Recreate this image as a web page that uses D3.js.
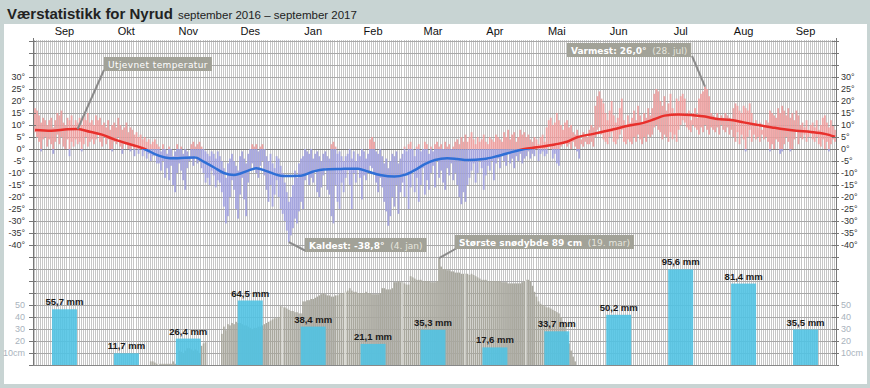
<!DOCTYPE html>
<html>
<head>
<meta charset="utf-8">
<script src="https://cdn.jsdelivr.net/npm/d3@7"></script>
<style>
body { margin: 0; background: #fff; }
svg { display: block; font-family: 'Liberation Sans', Arial, sans-serif; }
</style>
</head>
<body>
<script>
const monthNames = ['Sep','Okt','Nov','Des','Jan','Feb','Mar','Apr','Mai','Jun','Jul','Aug','Sep'];
const precip = [55.7, 11.7, 26.4, 64.5, 38.4, 21.1, 35.3, 17.6, 33.7, 50.2, 95.6, 81.4, 35.5];

const tempTicks = [30, 25, 20, 15, 10, 5, 0, -5, -10, -15, -20, -25, -30, -35, -40];
const snowTicks = [50, 40, 30, 20, 10];

// daily max / min, 1. sep 2016 - 30. sep 2017
const tmax = [
    17,16,14,11,13,12,10,12,13,9,12,15,14,16,11,10,13,12,14,10,12,11,13,10,14,12,15,11,12,10,
    14,12,13,10,11,9,12,8,10,11,9,13,10,8,9,11,7,9,8,6,7,5,6,4,5,3,4,2,3,4,2,
    1,-1,2,0,-2,1,0,-3,-1,2,0,1,-2,0,-1,-3,2,3,1,2,3,1,0,-1,-2,-3,-1,-2,-4,-1,
    -3,-5,-8,-12,-6,-4,-2,-5,-7,-9,-3,-1,-4,-6,-2,0,2,1,2,-1,1,2,0,-3,-5,-2,-6,-8,-3,-4,-7,
    -10,-14,-18,-22,-20,-15,-9,-12,-6,-4,-3,0,-1,-2,0,-4,-2,-1,-3,-5,-2,-1,-3,-4,2,3,1,-2,-1,-3,-5,
    -3,-2,0,-4,-1,-5,-2,-3,0,-1,-4,-2,4,5,3,-1,-2,0,-3,-6,-4,-8,-5,-2,-3,-1,-6,-4,
    -2,1,-1,2,3,0,-3,1,2,-1,0,3,2,-2,1,-1,2,3,1,2,0,3,1,2,0,1,3,4,2,5,3,
    6,3,5,7,4,2,5,3,4,6,3,2,5,4,3,6,5,4,3,7,5,8,4,6,7,3,5,8,6,7,
    5,6,4,3,5,4,2,5,6,3,9,12,13,10,11,15,12,10,8,11,12,9,10,7,6,8,5,4,7,6,5,
    8,10,9,18,22,24,21,19,15,12,16,20,14,11,13,17,21,12,10,14,11,13,16,12,18,14,11,15,13,17,
    14,17,23,25,24,20,18,22,16,19,23,17,15,21,20,22,23,21,14,16,12,15,17,13,21,23,24,26,25,22,15,
    14,13,15,12,14,13,15,14,13,12,17,19,18,16,15,18,17,16,19,15,10,12,9,11,8,10,12,11,16,15,14,
    13,17,15,18,16,14,17,13,15,12,16,14,10,11,9,12,8,10,11,9,12,8,10,13,14,11,9,12,10,8
];
const tmin = [
    7,5,3,-1,4,5,1,4,2,-2,3,6,2,5,1,0,4,-3,3,1,4,2,3,-1,2,5,1,3,4,2,
    4,6,3,1,5,2,4,0,-1,3,2,5,1,-2,3,2,0,-1,2,-3,0,-2,1,-3,-1,-4,-2,-5,-3,-2,-6,
    -6,-9,-5,-12,-8,-13,-7,-15,-18,-10,-6,-9,-13,-17,-8,-5,-4,-7,-3,-6,-5,-8,-10,-14,-12,-15,-9,-11,-16,-13,
    -14,-18,-24,-31,-28,-20,-13,-17,-25,-29,-19,-12,-21,-28,-14,-9,-6,-8,-10,-12,-7,-5,-11,-17,-22,-15,-24,-19,-13,-20,-25,
    -27,-30,-34,-38.8,-36,-33,-29,-31,-26,-22,-25,-13,-10,-15,-12,-14,-9,-18,-20,-16,-11,-8,-17,-19,-28,-31,-15,-22,-25,-14,-18,
    -12,-9,-15,-25,-10,-14,-8,-12,-21,-11,-13,-9,-7,-8,-10,-14,-18,-12,-16,-22,-26,-32,-28,-20,-24,-15,-27,-18,
    -14,-20,-11,-25,-16,-9,-18,-12,-22,-15,-8,-19,-13,-17,-10,-7,-16,-5,-12,-9,-14,-17,-8,-11,-6,-13,-10,-15,-20,-23,-18,
    -22,-15,-12,-9,-6,-14,-10,-5,-8,-17,-11,-7,-9,-5,-13,-6,-4,-8,-3,-5,-7,-2,-6,-4,-8,-3,-5,-2,-6,-4,
    -3,-1,-4,-2,-3,0,-5,-2,-1,-3,-2,1,0,-4,-2,-6,-7,1,2,3,1,2,0,3,1,-1,-4,2,1,3,2,
    2,3,1,5,8,9,6,4,3,2,5,7,3,2,4,6,8,3,2,4,3,2,5,3,6,4,2,5,3,6,
    5,6,9,10,8,7,4,6,5,3,7,4,6,3,8,10,12,11,9,8,7,10,9,8,6,9,7,10,8,6,9,
    8,7,9,6,10,8,7,9,6,8,5,3,7,2,6,4,-1,5,8,3,6,4,5,3,6,4,5,3,-1,2,0,
    4,3,-2,-1,2,5,3,-1,0,4,8,2,5,4,6,3,5,7,4,3,5,2,1,4,0,3,-1,2,4,3
];

// smoothed temperature (day number from 1. sep 2016)
const smoothDay = [0,8,16,21,27,33,39,45,50,54,59,64,69,74,79,83,88,93,98,105,109,114,122,131,137,142,151,159,164,170,
    177,182,187,192,197,203,208,213,221,228,234,241,247,256,262,267,275,285,292,300,305,310,317,323,330,336,343,349,356,363,
    369,375,382,389,394];
const smoothTemp = [7.9,7.6,8.2,8.3,7.2,6.0,4.0,2.4,1.2,0,-2.1,-3.5,-3.9,-3.6,-3.5,-5.3,-7.6,-10,-10.8,-9,-8,-9.2,-11.2,-11.1,-9.4,-8.5,-8.3,-8.2,-9.4,-10.8,
    -11.5,-10.8,-8.8,-6.3,-4.6,-3.9,-4.2,-4.6,-4.2,-2.9,-1.5,0,0.7,1.9,3,4.9,6.3,8.2,9.7,11,12.4,13.9,14.4,14.2,13.5,12.5,12.1,11.1,10,9,
    8.2,7.6,7.1,6.3,5.1];

// snow depth in cm from 28. okt 2016
const snow = [
    3,3,2,1,1,1,1,1,1,1,1,3,1,0,
    12,11,10,12,14,14,13,12,13,12,10,16,18,19,
    0,0,0,0,0,0,0,
    26,32,29,34,33,35,34,36,35,35,34,33,33,32,31,30,
    31,31,32,32,33,34,35,36,37,38,39,39,40,
    49,48,48,47,46,45,45,44,44,43,43,
    53,53,54,54,55,55,56,57,58,59,60,59,58,58,57,
    57,58,58,59,60,60,61,62,64,62,
    61,61,60,60,60,60,61,60,60,59,59,59,59,60,
    64,64,63,63,63,64,
    69,69,70,69,69,68,67,67,
    74,73,72,71,71,71,70,70,70,70,69,69,69,70,
    89,
    82,80,80,79,79,78,78,77,77,77,76,76,
    76,76,75,76,75,74,73,72,71,71,71,70,70,70,70,
    70,70,70,69,69,69,68,68,68,68,68,68,68,69,70,71,
    71,70,66,61,57,53,51,50,49,48,48,47,46,45,44,43,40,36,32,25,18,12,7,3
];

const width = 870, height = 388;
const start = new Date(Date.UTC(2016, 8, 1));
const end = new Date(Date.UTC(2017, 9, 1));
const snowStart = new Date(Date.UTC(2016, 9, 28));
const days = d3.utcDay.range(start, end);
const months = d3.utcMonth.range(start, end);

const x = d3.scaleUtc().domain([start, end]).range([34, 836]);
const yT = d3.scaleLinear().domain([0, 30]).range([149, 77]);
const yS = d3.scaleLinear().domain([0, 50]).range([365, 305]);
const yP = d3.scaleLinear().domain([0, 100]).range([365, 265]);
const dayW = x(days[1]) - x(days[0]);
const axLeft = 33, axRight = 836, plotTop = 40, plotBottom = 365;

const svg = d3.select('body')
.append('svg')
.attr('width', width)
.attr('height', height);

svg.append('rect')
.attr('width', width)
.attr('height', height)
.attr('fill', '#c8d4d3');

svg.append('rect')
.attr('x', 4)
.attr('y', 24)
.attr('width', 863)
.attr('height', 360)
.attr('fill', '#fff');

const title = svg.append('text')
.attr('x', 7)
.attr('y', 19)
.attr('fill', '#222');
title.append('tspan').attr('font-size', 15).attr('font-weight', 'bold').text('Værstatistikk for Nyrud');
title.append('tspan').attr('font-size', 11.5).attr('dx', 5).text('september 2016 – september 2017');

// grid
svg.append('g')
.selectAll('line')
.data(days)
.enter()
.append('line')
.attr('x1', d => Math.round(x(d)) + 0.5)
.attr('x2', d => Math.round(x(d)) + 0.5)
.attr('y1', plotTop)
.attr('y2', plotBottom)
.attr('stroke', '#c6c6c6')
.attr('stroke-width', 1);

const gridVals = d3.range(45, -91, -5);
svg.append('g')
.selectAll('line')
.data(gridVals)
.enter()
.append('line')
.attr('x1', axLeft)
.attr('x2', axRight)
.attr('y1', d => Math.round(yT(d)) + 0.5)
.attr('y2', d => Math.round(yT(d)) + 0.5)
.attr('stroke', d => d === 0 ? '#808080' : '#a8a8a8')
.attr('stroke-width', 1);

// temperature bars
const temps = days.map((d, i) => ({ date: d, max: tmax[i], min: tmin[i] }));
const barW = 1.8;

svg.append('g')
.selectAll('rect')
.data(temps.filter(d => d.max > 0))
.enter()
.append('rect')
.attr('x', d => x(d.date) + dayW / 2 - barW / 2)
.attr('width', barW)
.attr('y', d => yT(d.max))
.attr('height', d => yT(Math.max(d.min, 0)) - yT(d.max))
.attr('fill', '#ef9d9d')
.attr('opacity', 0.9);

svg.append('g')
.selectAll('rect')
.data(temps.filter(d => d.min < 0))
.enter()
.append('rect')
.attr('x', d => x(d.date) + dayW / 2 - barW / 2)
.attr('width', barW)
.attr('y', d => yT(Math.min(d.max, 0)))
.attr('height', d => yT(d.min) - yT(Math.min(d.max, 0)))
.attr('fill', '#a0a0df')
.attr('opacity', 0.9);

// smoothed line
const smooth = smoothDay.map((d, i) => ({ date: d3.utcDay.offset(start, d), t: smoothTemp[i] }));
const line = d3.line()
.x(d => x(d.date) + dayW / 2)
.y(d => yT(d.t))
.curve(d3.curveMonotoneX);

const defs = svg.append('defs');
defs.append('clipPath').attr('id', 'above')
.append('rect').attr('x', 0).attr('y', 0).attr('width', width).attr('height', yT(0));
defs.append('clipPath').attr('id', 'below')
.append('rect').attr('x', 0).attr('y', yT(0)).attr('width', width).attr('height', height);

svg.append('path')
.datum(smooth)
.attr('d', line)
.attr('fill', 'none')
.attr('stroke', '#e8302c')
.attr('stroke-width', 2.5)
.attr('clip-path', 'url(#above)');

svg.append('path')
.datum(smooth)
.attr('d', line)
.attr('fill', 'none')
.attr('stroke', '#2f6fd6')
.attr('stroke-width', 2.5)
.attr('clip-path', 'url(#below)');

// snow depth
const snowData = snow.map((v, i) => ({ date: d3.utcDay.offset(snowStart, i), v: v })).filter(d => d.v > 0);

svg.append('g')
.selectAll('rect')
.data(snowData)
.enter()
.append('rect')
.attr('x', d => x(d.date) + 0.2)
.attr('width', dayW - 0.4)
.attr('y', d => yS(d.v))
.attr('height', d => yS(0) - yS(d.v))
.attr('fill', '#a9a89e');

svg.append('g')
.selectAll('line')
.data(snowData.filter(d => d.date.getUTCDate() === 1))
.enter()
.append('line')
.attr('x1', d => x(d.date) + 0.5)
.attr('x2', d => x(d.date) + 0.5)
.attr('y1', d => yS(d.v))
.attr('y2', plotBottom)
.attr('stroke', '#e8e8e4')
.attr('stroke-width', 1.2);

// precipitation
const monthData = months.map((m, i) => {
    const next = d3.utcMonth.offset(m, 1);
    return { name: monthNames[i], mid: (x(m) + x(next)) / 2, p: precip[i] };
});

svg.append('g')
.selectAll('rect')
.data(monthData)
.enter()
.append('rect')
.attr('x', d => d.mid - 12.5)
.attr('width', 25)
.attr('y', d => yP(d.p))
.attr('height', d => yP(0) - yP(d.p))
.attr('fill', '#4ec3e4')
.attr('opacity', 0.88);

svg.append('g')
.selectAll('text')
.data(monthData)
.enter()
.append('text')
.attr('x', d => d.mid)
.attr('y', d => yP(d.p) - 4)
.attr('text-anchor', 'middle')
.attr('font-size', 9.5)
.attr('font-weight', 'bold')
.attr('fill', '#1a1a1a')
.text(d => d.p.toFixed(1).replace('.', ',') + ' mm');

// month labels
svg.append('g')
.selectAll('text')
.data(monthData)
.enter()
.append('text')
.attr('x', d => d.mid)
.attr('y', 35)
.attr('text-anchor', 'middle')
.attr('font-size', 11)
.attr('fill', '#111')
.text(d => d.name);

// axes
[axLeft, axRight].forEach((ax, k) => {
    svg.append('line')
    .attr('x1', ax + 0.5).attr('x2', ax + 0.5)
    .attr('y1', plotTop - 2).attr('y2', plotBottom)
    .attr('stroke', '#777');

    svg.append('g')
    .selectAll('line')
    .data(gridVals)
    .enter()
    .append('line')
    .attr('x1', ax - 4)
    .attr('x2', ax + 3)
    .attr('y1', d => Math.round(yT(d)) + 0.5)
    .attr('y2', d => Math.round(yT(d)) + 0.5)
    .attr('stroke', '#777');

    const tAxis = (k === 0 ? d3.axisLeft(yT) : d3.axisRight(yT))
    .tickValues(tempTicks)
    .tickSize(0)
    .tickPadding(k === 0 ? 8 : 5)
    .tickFormat(d => d + '°');

    const sAxis = (k === 0 ? d3.axisLeft(yS) : d3.axisRight(yS))
    .tickValues(snowTicks)
    .tickSize(0)
    .tickPadding(k === 0 ? 8 : 5)
    .tickFormat(d => d === 10 ? '10cm' : d);

    [[tAxis, '#333'], [sAxis, '#a9b3bd']].forEach(([a, c]) => {
        const g = svg.append('g')
        .attr('transform', `translate(${ax},0)`)
        .call(a);
        g.select('.domain').remove();
        g.selectAll('text')
        .attr('font-family', "'Liberation Sans', Arial, sans-serif")
        .attr('font-size', 9)
        .attr('fill', c);
    });
});

svg.append('line')
.attr('x1', axLeft).attr('x2', axRight + 1)
.attr('y1', plotBottom + 0.5).attr('y2', plotBottom + 0.5)
.attr('stroke', '#888');

// notes
function addNote(bx, by, parts, p1, p2, spacing) {
    svg.append('line')
    .attr('x1', p1[0]).attr('y1', p1[1])
    .attr('x2', p2[0]).attr('y2', p2[1])
    .attr('stroke', '#8a8a8a')
    .attr('stroke-width', 2);

    const box = svg.append('rect')
    .attr('x', bx)
    .attr('y', by)
    .attr('height', 14)
    .attr('fill', '#a2a298');

    const text = svg.append('text')
    .attr('x', bx + 4)
    .attr('y', by + 10.5)
    .attr('font-family', "'DejaVu Sans', Verdana, sans-serif")
    .attr('font-size', 9)
    .attr('letter-spacing', spacing || 0);

    parts.forEach(p => {
        text.append('tspan')
        .attr('font-weight', p.bold ? 'bold' : 'normal')
        .attr('fill', p.color || '#fff')
        .attr('xml:space', 'preserve')
        .text(p.text);
    });

    box.attr('width', text.node().getBBox().width + 8);
}

const fmt = v => v.toFixed(1).replace('.', ',');
const minT = d3.min(tmin), maxT = d3.max(tmax), maxS = d3.max(snow);
const minDay = days[tmin.indexOf(minT)], maxDay = days[tmax.indexOf(maxT)];
const snowDay = d3.utcDay.offset(snowStart, snow.indexOf(maxS));
const dayLabel = d => `(${d.getUTCDate()}. ${d3.utcFormat('%b')(d).toLowerCase()})`;

const sm = smooth[3];
addNote(104, 57, [{ text: 'Utjevnet temperatur' }],
    [104, 70], [x(sm.date) + dayW / 2, yT(sm.t)], 0.4);

addNote(567, 43, [{ text: 'Varmest: ' + fmt(maxT) + '°', bold: true }, { text: '  ' + dayLabel(maxDay), color: '#e6e6de' }],
    [692, 56], [x(maxDay) + dayW / 2, yT(maxT)]);

addNote(305, 238, [{ text: 'Kaldest: ' + fmt(minT) + '°', bold: true }, { text: '  ' + dayLabel(minDay), color: '#e6e6de' }],
    [306, 251], [x(minDay) + dayW / 2, yT(minT)]);

addNote(455, 235, [{ text: 'Største snødybde ' + maxS + ' cm', bold: true }, { text: '  ' + dayLabel(snowDay), color: '#e6e6de' }],
    [457, 248], [x(snowDay) + dayW / 2, yS(maxS)]);
</script>
</body>
</html>
